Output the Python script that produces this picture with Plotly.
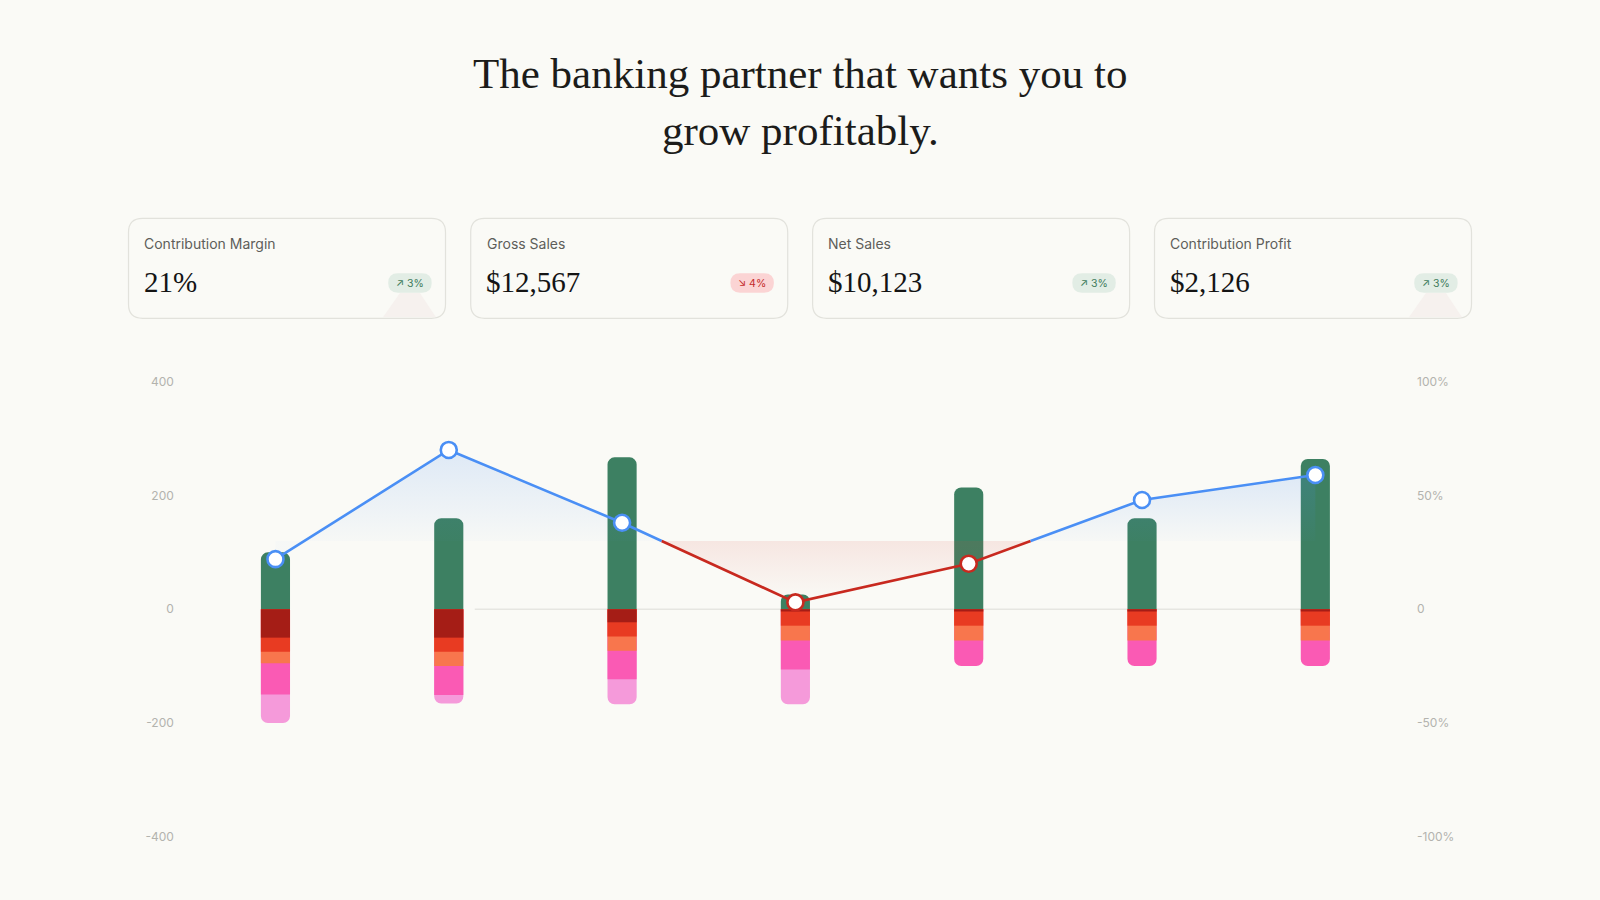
import numpy as np
import plotly.graph_objects as go

# ---------------- data ----------------
periods = ["P1", "P2", "P3", "P4", "P5", "P6", "P7"]
contribution = [100, 160, 267, 26, 214, 160, 264]
cost_a = [50, 50, 23, 4, 4, 4, 4]        # dark red
cost_b = [25, 25, 25, 25, 25, 25, 25]    # red
cost_c = [20, 25, 25, 26, 26, 26, 26]    # orange
cost_d = [55, 51, 50, 51, 45, 45, 45]    # pink
cost_e = [50, 15, 44, 61, 0, 0, 0]       # light pink
margin_pct = [22, 70, 38, 3, 20, 48, 59]
margin_status = ["up", "up", "up", "down", "down", "up", "up"]
threshold = 30

left_ticks = [400, 200, 0, -200, -400]
right_ticks = [100, 50, 0, -50, -100]
right_tick_text = ["100%", "50%", "0", "-50%", "-100%"]

title_lines = ["The banking partner that wants you to", "grow profitably."]
kpi_labels = ["Contribution Margin", "Gross Sales", "Net Sales", "Contribution Profit"]
kpi_values = ["21%", "$12,567", "$10,123", "$2,126"]
kpi_changes = ["3%", "4%", "3%", "3%"]
kpi_dirs = ["up", "down", "up", "up"]

# ---------------- style ----------------
W, H = 1600, 900
BG = "#fafaf6"
GREEN = "#3d8062"
SEG_COLORS = ["#a51d16", "#e83b22", "#f8764d", "#fa5ab4", "#f59ada"]
BLUE = "#4a8ff5"
RED = "#c8291f"
TICK = "#b3b3ae"

PL, PR, PT, PB = 188.8, 1402.0, 381.7, 836.7   # plot area in px
BAR_W = 0.168


def px(x):
    return x / W


def py(y):
    return 1 - y / H


def rrect(x0, y0, x1, y1, r):
    pts = [
        f"M {px(x0 + r)},{py(y0)}",
        f"L {px(x1 - r)},{py(y0)}",
        f"Q {px(x1)},{py(y0)} {px(x1)},{py(y0 + r)}",
        f"L {px(x1)},{py(y1 - r)}",
        f"Q {px(x1)},{py(y1)} {px(x1 - r)},{py(y1)}",
        f"L {px(x0 + r)},{py(y1)}",
        f"Q {px(x0)},{py(y1)} {px(x0)},{py(y1 - r)}",
        f"L {px(x0)},{py(y0 + r)}",
        f"Q {px(x0)},{py(y0)} {px(x0 + r)},{py(y0)}",
        "Z",
    ]
    return " ".join(pts)


fig = go.Figure()
xpos = np.arange(len(periods), dtype=float)

# ---------------- bars ----------------
fig.add_trace(go.Bar(x=xpos, y=contribution, width=BAR_W, marker_color=GREEN,
                     marker_line_width=0, hoverinfo="skip", showlegend=False))
segs = [cost_a, cost_b, cost_c, cost_d, cost_e]
cum = np.cumsum(np.array(segs, dtype=float), axis=0)
# draw deepest first so shallower segments overlap them
for i in reversed(range(len(segs))):
    vals = [-v if s > 0 else None for v, s in zip(cum[i], segs[i])]
    fig.add_trace(go.Bar(x=xpos, y=vals, width=BAR_W, marker_color=SEG_COLORS[i],
                         marker_line_width=0, hoverinfo="skip", showlegend=False))

# ---------------- margin line (split at threshold where status changes) ----------------
groups = []
cur_x, cur_y, cur_s = [xpos[0]], [margin_pct[0]], margin_status[0]
for i in range(1, len(margin_pct)):
    s = margin_status[i]
    if s != cur_s:
        y0, y1 = margin_pct[i - 1], margin_pct[i]
        t = (y0 - threshold) / (y0 - y1)
        xc = xpos[i - 1] + t * (xpos[i] - xpos[i - 1])
        cur_x.append(xc)
        cur_y.append(threshold)
        groups.append((cur_s, cur_x, cur_y))
        cur_x, cur_y, cur_s = [xc], [threshold], s
    cur_x.append(xpos[i])
    cur_y.append(margin_pct[i])
groups.append((cur_s, cur_x, cur_y))

for s, gx, gy in groups:
    if s == "up":
        rgb = "74,143,245"
        grad = dict(type="vertical", start=threshold, stop=max(gy),
                    colorscale=[[0, f"rgba({rgb},0.02)"], [1, f"rgba({rgb},0.16)"]])
    else:
        rgb = "214,70,60"
        grad = dict(type="vertical", start=min(gy), stop=threshold,
                    colorscale=[[0, f"rgba({rgb},0.0)"], [1, f"rgba({rgb},0.11)"]])
    poly_x = list(gx) + [gx[-1], gx[0], gx[0]]
    poly_y = list(gy) + [threshold, threshold, gy[0]]
    fig.add_trace(go.Scatter(x=poly_x, y=poly_y, yaxis="y2", mode="lines",
                             line=dict(width=0), fill="toself", fillgradient=grad,
                             hoverinfo="skip", showlegend=False))

for s, gx, gy in groups:
    fig.add_trace(go.Scatter(x=gx, y=gy, yaxis="y2", mode="lines",
                             line=dict(color=BLUE if s == "up" else RED, width=2.6),
                             hoverinfo="skip", showlegend=False))

fig.add_trace(go.Scatter(
    x=xpos, y=margin_pct, yaxis="y2", mode="markers",
    marker=dict(size=16, color="white",
                line=dict(width=2.6, color=[BLUE if s == "up" else RED for s in margin_status])),
    hoverinfo="skip", showlegend=False))

# ---------------- shapes / annotations ----------------
shapes = []
annotations = []

# zero line
shapes.append(dict(type="line", xref="x", yref="y", x0=1.15, x1=6, y0=0, y1=0,
                   line=dict(color="#e6e6e1", width=1.5), layer="below"))

# title
for i, (txt, yc) in enumerate(zip(title_lines, [73.5, 130.5])):
    annotations.append(dict(text=txt, x=0.5, y=py(yc), xref="paper", yref="paper",
                            showarrow=False, xanchor="center", yanchor="middle",
                            font=dict(family="Liberation Serif", size=43, color="#1c1c1a")))

# KPI cards
card_left = [128.5, 470.7, 812.6, 1154.5]
CW, CT, CB = 317.0, 218.3, 318.3
glow = [True, False, False, True]
for i in range(4):
    x0 = card_left[i]
    x1 = x0 + CW
    bx1 = x1 - 13.8
    bx0 = bx1 - 43.5
    bc = (bx0 + bx1) / 2
    if glow[i]:
        shapes.append(dict(type="path", xref="paper", yref="paper",
                           path=f"M {px(bc-10)},{py(293)} L {px(bc+10)},{py(293)} "
                                f"L {px(bc+26)},{py(CB-1)} L {px(bc-27)},{py(CB-1)} Z",
                           fillcolor="#f6f1ee", line=dict(width=0), layer="above"))
    shapes.append(dict(type="path", xref="paper", yref="paper", path=rrect(x0, CT, x1, CB, 14),
                       fillcolor="rgba(0,0,0,0)", line=dict(color="#e2e2dc", width=1.2),
                       layer="above"))
    up = kpi_dirs[i] == "up"
    shapes.append(dict(type="path", xref="paper", yref="paper",
                       path=rrect(bx0, 273.3, bx1, 292.8, 9.7),
                       fillcolor="#e2ede5" if up else "#fbd4d4", line=dict(width=0),
                       layer="above"))
    annotations.append(dict(text=("↗ " if up else "↘ ") + kpi_changes[i],
                            x=px(bc), y=py(283.2), xref="paper", yref="paper",
                            showarrow=False, xanchor="center", yanchor="middle",
                            font=dict(family="Inter", size=10.5,
                                      color="#3f7b5c" if up else "#c42b2b")))
    annotations.append(dict(text=kpi_labels[i], x=px(x0 + 13.8), y=py(243.5),
                            xref="paper", yref="paper", showarrow=False,
                            xanchor="left", yanchor="middle",
                            font=dict(family="Inter", size=14, color="#5e5e5a")))
    annotations.append(dict(text=kpi_values[i], x=px(x0 + 13), y=py(282),
                            xref="paper", yref="paper", showarrow=False,
                            xanchor="left", yanchor="middle",
                            font=dict(family="Liberation Serif", size=29, color="#141414")))

fig.update_layout(
    width=W, height=H, autosize=False,
    margin=dict(l=0, r=0, t=0, b=0, autoexpand=False),
    paper_bgcolor=BG, plot_bgcolor=BG,
    barmode="overlay", barcornerradius=7,
    showlegend=False,
    xaxis=dict(domain=[PL / W, PR / W], range=[-0.5, 6.5], visible=False, fixedrange=True),
    yaxis=dict(domain=[1 - PB / H, 1 - PT / H], range=[-400, 400],
               tickvals=left_ticks, ticktext=[str(v) for v in left_ticks],
               showgrid=False, zeroline=False, showline=False, ticks="",
               ticklabelstandoff=14,
               tickfont=dict(family="Inter", size=12, color=TICK), fixedrange=True),
    yaxis2=dict(overlaying="y", side="right", range=[-100, 100],
                tickvals=right_ticks, ticktext=right_tick_text,
                showgrid=False, zeroline=False, showline=False, ticks="",
                ticklabelstandoff=14,
                tickfont=dict(family="Inter", size=12, color=TICK), fixedrange=True),
    shapes=shapes, annotations=annotations,
)

fig.write_html("out.html", config={"displayModeBar": False},
               post_script="document.body.style.margin='0';document.body.style.overflow='hidden';")
